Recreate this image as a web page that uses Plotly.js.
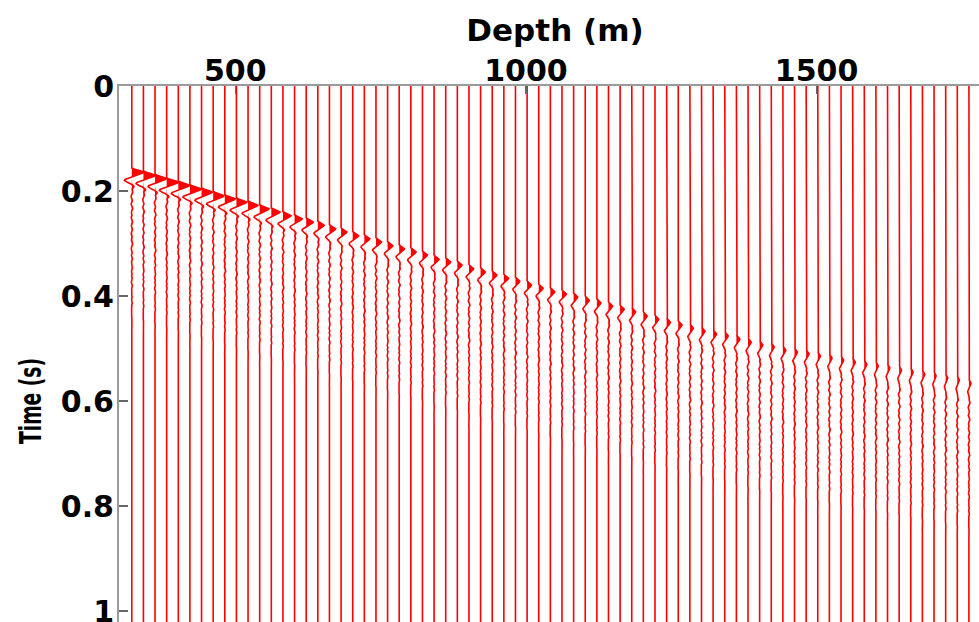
<!DOCTYPE html>
<html>
<head>
<meta charset="utf-8">
<script src="https://cdn.plot.ly/plotly-3.0.1.min.js"></script>
<style>
  html, body { margin: 0; padding: 0; background: #fff; overflow: hidden; }
  #vsp { width: 1000px; height: 730px; }
</style>
</head>
<body>
<div id="vsp"></div>
<script>
// Receiver depths (m), one wiggle trace per receiver
const depths = [322, 342, 362, 382, 402, 422, 442, 462, 482, 502, 522, 542, 562, 582, 602,
  622, 642, 662, 682, 702, 722, 742, 762, 782, 802, 822, 842, 862, 882, 902, 922, 942, 962,
  982, 1002, 1022, 1042, 1062, 1082, 1102, 1122, 1142, 1162, 1182, 1202, 1222, 1242, 1262,
  1282, 1302, 1322, 1342, 1362, 1382, 1402, 1422, 1442, 1462, 1482, 1502, 1522, 1542, 1562,
  1582, 1602, 1622, 1642, 1662, 1682, 1702, 1722, 1742, 1762];

// First-break peak time (s) picked on each trace
const firstBreak = [0.164, 0.170, 0.176, 0.183, 0.189, 0.196, 0.202, 0.209, 0.215, 0.221,
  0.227, 0.234, 0.240, 0.247, 0.253, 0.259, 0.265, 0.272, 0.278, 0.285, 0.291, 0.297, 0.304,
  0.310, 0.316, 0.322, 0.330, 0.335, 0.341, 0.348, 0.354, 0.360, 0.366, 0.372, 0.379, 0.385,
  0.392, 0.396, 0.402, 0.408, 0.413, 0.419, 0.425, 0.430, 0.438, 0.444, 0.450, 0.455, 0.461,
  0.467, 0.472, 0.476, 0.482, 0.488, 0.493, 0.497, 0.503, 0.507, 0.510, 0.514, 0.518, 0.522,
  0.526, 0.530, 0.533, 0.537, 0.541, 0.545, 0.549, 0.552, 0.556, 0.560, 0.566];

// Peak amplitude of the direct arrival on each trace (in depth units after gain)
const peakAmp = [21, 21, 20, 21, 20, 20, 19, 19, 18, 18, 17,
  16, 15, 14, 13, 12,
  11, 10.5, 10, 10, 9.5,
  9.5, 9, 9, 9, 8.5, 8.5, 8.5, 8, 8, 8,
  8, 8, 7.5, 7.5, 7.5, 7.5, 7.5, 7, 7, 7,
  7, 7, 6.5, 6.5, 6.5, 6.5, 6.5, 6, 6, 6,
  6, 6, 5.5, 5.5, 5, 5, 5, 5, 4.5, 4.5,
  4.5, 4.5, 4.5, 4, 4, 4, 4, 4, 3.5, 3.5, 3.5, 3.5];

// Normalised direct-arrival wavelet, sampled every 2 ms, peak at sample 4
const wavelet = [0, 0.2, 0.5, 0.82, 1.0, 0.88, 0.65, 0.4, 0.15, -0.12, -0.38, -0.55,
  -0.6, -0.5, -0.32, -0.12, 0.05, 0.15, 0.18, 0.12, 0.03];

// Reverberation tail following the direct arrival, sampled every 4 ms
const coda = [0.3, 0.5, 0.1, -0.35, -0.1, 0.25, -0.05, -0.3, 0.2, 0.45, 0.0, -0.2,
  0.1, -0.25, -0.05, 0.35, 0.15, -0.2, 0.05, 0.3, -0.1, -0.3, 0.1, 0.05, -0.15, 0.25,
  0.4, -0.05, -0.25, 0.0, 0.2, -0.15, 0.1, 0.3, -0.1, -0.2, 0.05, 0.25, 0.0, -0.15,
  0.15, -0.1, 0.2, 0.05, -0.2, 0.1, 0.25, -0.05, -0.15, 0.1, 0.0, 0.15, -0.1, 0.05,
  0.2, -0.05, -0.1, 0.1, 0.0, 0.1, -0.08, 0.05, 0.1, -0.05, 0.0, 0.06, -0.04, 0.0];

const xTickVals = [500, 1000, 1500];
const yTickVals = [0, 0.2, 0.4, 0.6, 0.8, 1, 1.2];

const WAVELET_DT = 0.002;
const WAVELET_PEAK = 4;
const CODA_DT = 0.004;
const CODA_GAIN = 3.5;
const T_MAX = 1.2;

const lineX = [], lineY = [], fillX = [], fillY = [];

depths.forEach((d, k) => {
  const samples = [];
  const t0 = firstBreak[k] - WAVELET_PEAK * WAVELET_DT;
  wavelet.forEach((w, i) => samples.push([t0 + i * WAVELET_DT, peakAmp[k] * w]));
  const tc = t0 + wavelet.length * WAVELET_DT;
  coda.forEach((c, j) => samples.push([tc + j * CODA_DT, CODA_GAIN * c]));

  // wiggle line: straight before and after the recorded window
  lineX.push(d); lineY.push(-0.02);
  samples.forEach(([t, v]) => { lineX.push(d + v); lineY.push(t); });
  lineX.push(d); lineY.push(T_MAX + 0.02);
  lineX.push(null); lineY.push(null);

  // variable-area fill of the positive lobes
  fillX.push(d); fillY.push(samples[0][0]);
  samples.forEach(([t, v]) => { fillX.push(d + Math.max(0, v)); fillY.push(t); });
  fillX.push(d); fillY.push(samples[samples.length - 1][0]);
  fillX.push(null); fillY.push(null);
});

const RED = '#ff0000';
const FONT = { family: 'DejaVu Sans, Arial, sans-serif', color: '#000', size: 30, weight: 'bold' };

const data = [
  { type: 'scatter', mode: 'lines', x: fillX, y: fillY, fill: 'toself',
    fillcolor: RED, line: { width: 0, color: RED }, hoverinfo: 'skip', showlegend: false },
  { type: 'scatter', mode: 'lines', x: lineX, y: lineY,
    line: { width: 1.6, color: RED }, hoverinfo: 'skip', showlegend: false }
];

const layout = {
  width: 1000, height: 730,
  margin: { l: 119, r: 9, t: 86, b: 14 },
  paper_bgcolor: '#fff', plot_bgcolor: '#fff',
  showlegend: false,
  font: FONT,
  xaxis: {
    side: 'top', range: [300, 1800], tickvals: xTickVals,
    showgrid: false, zeroline: false,
    showline: true, mirror: true, linecolor: '#9a9a9a', linewidth: 2,
    ticks: 'inside', ticklen: 8, tickwidth: 1.5, tickcolor: '#666',
    tickfont: FONT, ticklabelstandoff: -9,
    title: { text: 'Depth (m)', font: Object.assign({}, FONT, { size: 31 }), standoff: 2 }
  },
  yaxis: {
    range: [T_MAX, 0], tickvals: yTickVals,
    showgrid: false, zeroline: false,
    showline: true, mirror: true, linecolor: '#9a9a9a', linewidth: 2,
    ticks: 'inside', ticklen: 9, tickwidth: 1.5, tickcolor: '#666',
    tickfont: FONT, ticklabelstandoff: -3,
    title: { text: 'Time (s)', font: FONT, standoff: 10 }
  }
};

Plotly.newPlot('vsp', data, layout, { staticPlot: true, displayModeBar: false }).then(gd => {
  // the vertical axis title is set in a condensed width
  const t = gd.querySelector('.g-ytitle text');
  if (t) {
    t.setAttribute('textLength', '86');
    t.setAttribute('lengthAdjust', 'spacingAndGlyphs');
  }
});
</script>
</body>
</html>
